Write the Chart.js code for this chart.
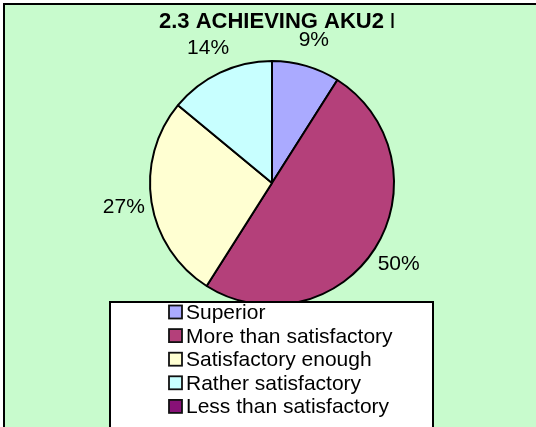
<!DOCTYPE html>
<html>
<head>
<meta charset="utf-8">
<script src="https://cdn.jsdelivr.net/npm/chart.js@4"></script>
<style>
  html, body { margin: 0; padding: 0; background: #fff; overflow: hidden; }
  #wrap { position: absolute; left: 0; top: 0; width: 536px; height: 427px; }
</style>
</head>
<body>
<div id="wrap"><canvas id="pie"></canvas></div>
<script>
// data
const labels = ['Superior', 'More than satisfactory', 'Satisfactory enough', 'Rather satisfactory', 'Less than satisfactory'];
const shares = [9, 50, 27, 14, 0];
const colours = ['#AAAAFF', '#B4407A', '#FFFFD2', '#C8FFFF', '#881177'];
const titleText = '2.3 ACHIEVING AKU2 L';

const FONT = '"Liberation Sans", Arial, sans-serif';

// green plot background with the frame's left and top edge
const framePlugin = {
  id: 'frame',
  beforeDraw(chart) {
    const c = chart.ctx;
    c.save();
    c.fillStyle = '#fff';
    c.fillRect(0, 0, chart.width, chart.height);
    c.fillStyle = '#C8FBCD';
    c.fillRect(4, 4, chart.width, chart.height);
    c.strokeStyle = '#000';
    c.lineWidth = 2;
    c.beginPath();
    c.moveTo(4, chart.height + 2);
    c.lineTo(4, 4);
    c.lineTo(chart.width + 2, 4);
    c.stroke();
    c.restore();
  }
};

// title, cut off on the right like the original
const titlePlugin = {
  id: 'clippedTitle',
  afterDraw(chart) {
    const c = chart.ctx;
    c.save();
    c.font = 'bold 22px ' + FONT;
    const shown = c.measureText(titleText.slice(0, -1)).width + 3.5;
    c.beginPath();
    c.rect(159, 0, shown, 40);
    c.clip();
    c.fillStyle = '#000';
    c.textBaseline = 'alphabetic';
    c.textAlign = 'left';
    c.fillText(titleText, 159, 28);
    c.restore();
  }
};

// percent labels just outside each slice
const pctPlugin = {
  id: 'pctLabels',
  afterDatasetsDraw(chart) {
    const c = chart.ctx;
    const meta = chart.getDatasetMeta(0);
    c.save();
    c.font = '21px ' + FONT;
    c.fillStyle = '#000';
    c.textAlign = 'center';
    c.textBaseline = 'middle';
    meta.data.forEach((arc, i) => {
      const v = chart.data.datasets[0].data[i];
      if (!v) return;
      const a = (arc.startAngle + arc.endAngle) / 2;
      const r = arc.outerRadius + 28;
      c.fillText(v + '%', arc.x + Math.cos(a) * r, arc.y + Math.sin(a) * r + 1);
    });
    c.restore();
  }
};

// boxed legend laid over the bottom of the pie
const legendPlugin = {
  id: 'boxLegend',
  afterDraw(chart) {
    const c = chart.ctx;
    const ds = chart.data.datasets[0];
    c.save();
    c.fillStyle = '#fff';
    c.strokeStyle = '#000';
    c.lineWidth = 2;
    c.fillRect(110, 302, 323, 160);
    c.strokeRect(110, 302, 323, 160);
    c.font = '21px ' + FONT;
    c.textAlign = 'left';
    c.textBaseline = 'alphabetic';
    chart.data.labels.forEach((lab, i) => {
      const cy = 312 + i * 23.6;
      c.fillStyle = ds.backgroundColor[i];
      c.fillRect(169, cy - 6.5, 13, 13);
      c.lineWidth = 1.8;
      c.strokeStyle = '#111';
      c.strokeRect(169, cy - 6.5, 13, 13);
      c.fillStyle = '#000';
      c.fillText(lab, 186, cy + 7);
    });
    c.restore();
  }
};

new Chart(document.getElementById('pie'), {
  type: 'pie',
  data: {
    labels: labels,
    datasets: [{
      data: shares,
      backgroundColor: colours,
      borderColor: '#000',
      borderWidth: 2
    }]
  },
  options: {
    responsive: true,
    maintainAspectRatio: false,
    animation: false,
    layout: { padding: { left: 149, right: 141, top: 60, bottom: 121 } },
    plugins: {
      legend: { display: false },
      title: { display: false },
      tooltip: { enabled: false }
    }
  },
  plugins: [framePlugin, pctPlugin, legendPlugin, titlePlugin]
});
</script>
</body>
</html>
